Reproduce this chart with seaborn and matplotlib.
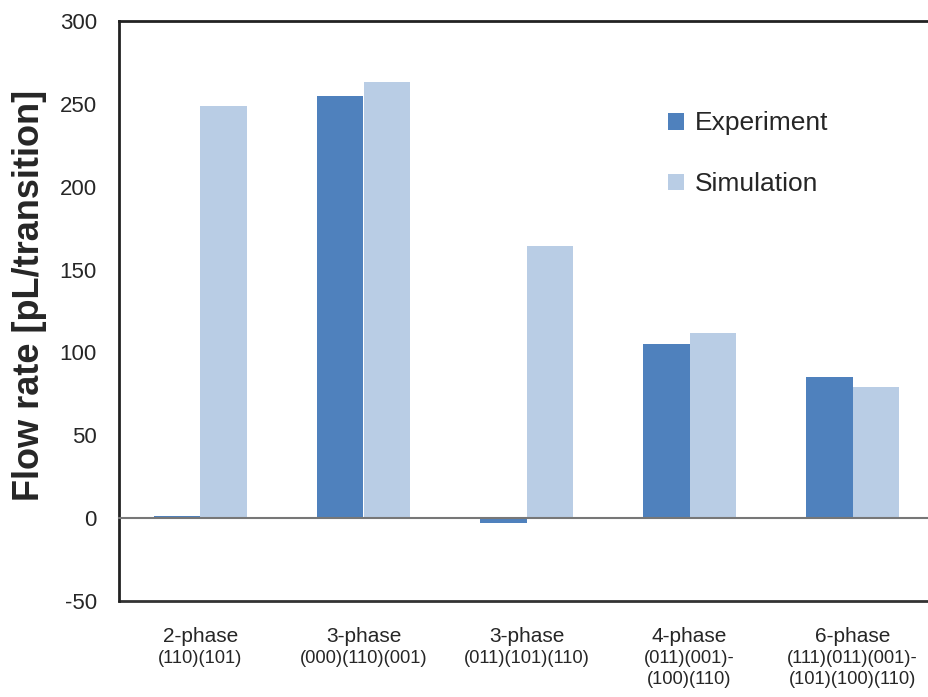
import matplotlib
matplotlib.use("Agg")
import matplotlib.pyplot as plt
import matplotlib.transforms as mtransforms
import seaborn as sns
import pandas as pd

# data
phases = ["2-phase", "3-phase", "3-phase", "4-phase", "6-phase"]
sequences = ["(110)(101)", "(000)(110)(001)", "(011)(101)(110)",
             "(011)(001)-\n(100)(110)", "(111)(011)(001)-\n(101)(100)(110)"]
experiment = [1, 255, -3, 105, 85]
simulation = [249, 263, 164, 112, 79]
series = ["Experiment", "Simulation"]
colors = ["#4f81bd", "#b9cde5"]
yticks = [-50, 0, 50, 100, 150, 200, 250, 300]

cats = [f"c{i}" for i in range(len(phases))]
df = pd.DataFrame({
    "cat": cats * 2,
    "value": experiment + simulation,
    "series": [series[0]] * len(cats) + [series[1]] * len(cats),
})

sns.set_style("white")
plt.rcParams["font.family"] = ["Liberation Sans", "DejaVu Sans"]

fig = plt.figure(figsize=(9.29, 6.97), dpi=100)
ax = fig.add_axes([119 / 929, 1 - 601 / 697, 815 / 929, (601 - 21) / 697])

sns.barplot(data=df, x="cat", y="value", hue="series", order=cats,
            hue_order=series, palette=colors, width=0.57, saturation=1,
            edgecolor="none", ax=ax, legend=True)

ax.set_xlim(-0.5, len(cats) - 0.5)
ax.set_ylim(-50, 300)
ax.set_yticks(yticks)
ax.set_yticklabels([str(v) for v in yticks], fontsize=16)
ax.tick_params(axis="y", direction="in", length=7, width=1.2, color="#444444", pad=16)

# zero line acts as x axis, frame bottom at -50
ax.spines["bottom"].set_position(("data", 0))
ax.spines["bottom"].set_color("#777777")
ax.spines["bottom"].set_linewidth(1.5)
ax.axhline(-50, color="#333333", lw=2.0, clip_on=False)
ax.spines["left"].set_color("#222222")
ax.spines["left"].set_linewidth(2.0)
ax.spines["top"].set_color("#222222")
ax.spines["top"].set_linewidth(2.0)
ax.spines["right"].set_visible(False)

ax.set_xticks([i + 0.5 for i in range(len(cats) - 1)])
ax.set_xticklabels([])
ax.tick_params(axis="x", direction="in", length=5, width=1, color="#555555")

trans = mtransforms.blended_transform_factory(ax.transData, fig.transFigure)
for i, (p, s) in enumerate(zip(phases, sequences)):
    ax.text(i, 1 - 636 / 697, p, transform=trans, ha="center", va="center",
            fontsize=15)
    ax.text(i, 1 - 650 / 697, s, transform=trans, ha="center", va="top",
            fontsize=13.2, linespacing=1.32)

ax.set_xlabel("")
ax.set_ylabel("Flow rate [pL/transition]", fontsize=26, fontweight="bold")
ax.yaxis.set_label_coords(-0.088, 0.526)

leg = ax.legend(loc="upper left", bbox_to_anchor=(0.645, 0.885), frameon=False,
                fontsize=19, handlelength=0.6, handleheight=0.6,
                handletextpad=0.4, labelspacing=1.4)

fig.savefig("out.png", dpi=100)
